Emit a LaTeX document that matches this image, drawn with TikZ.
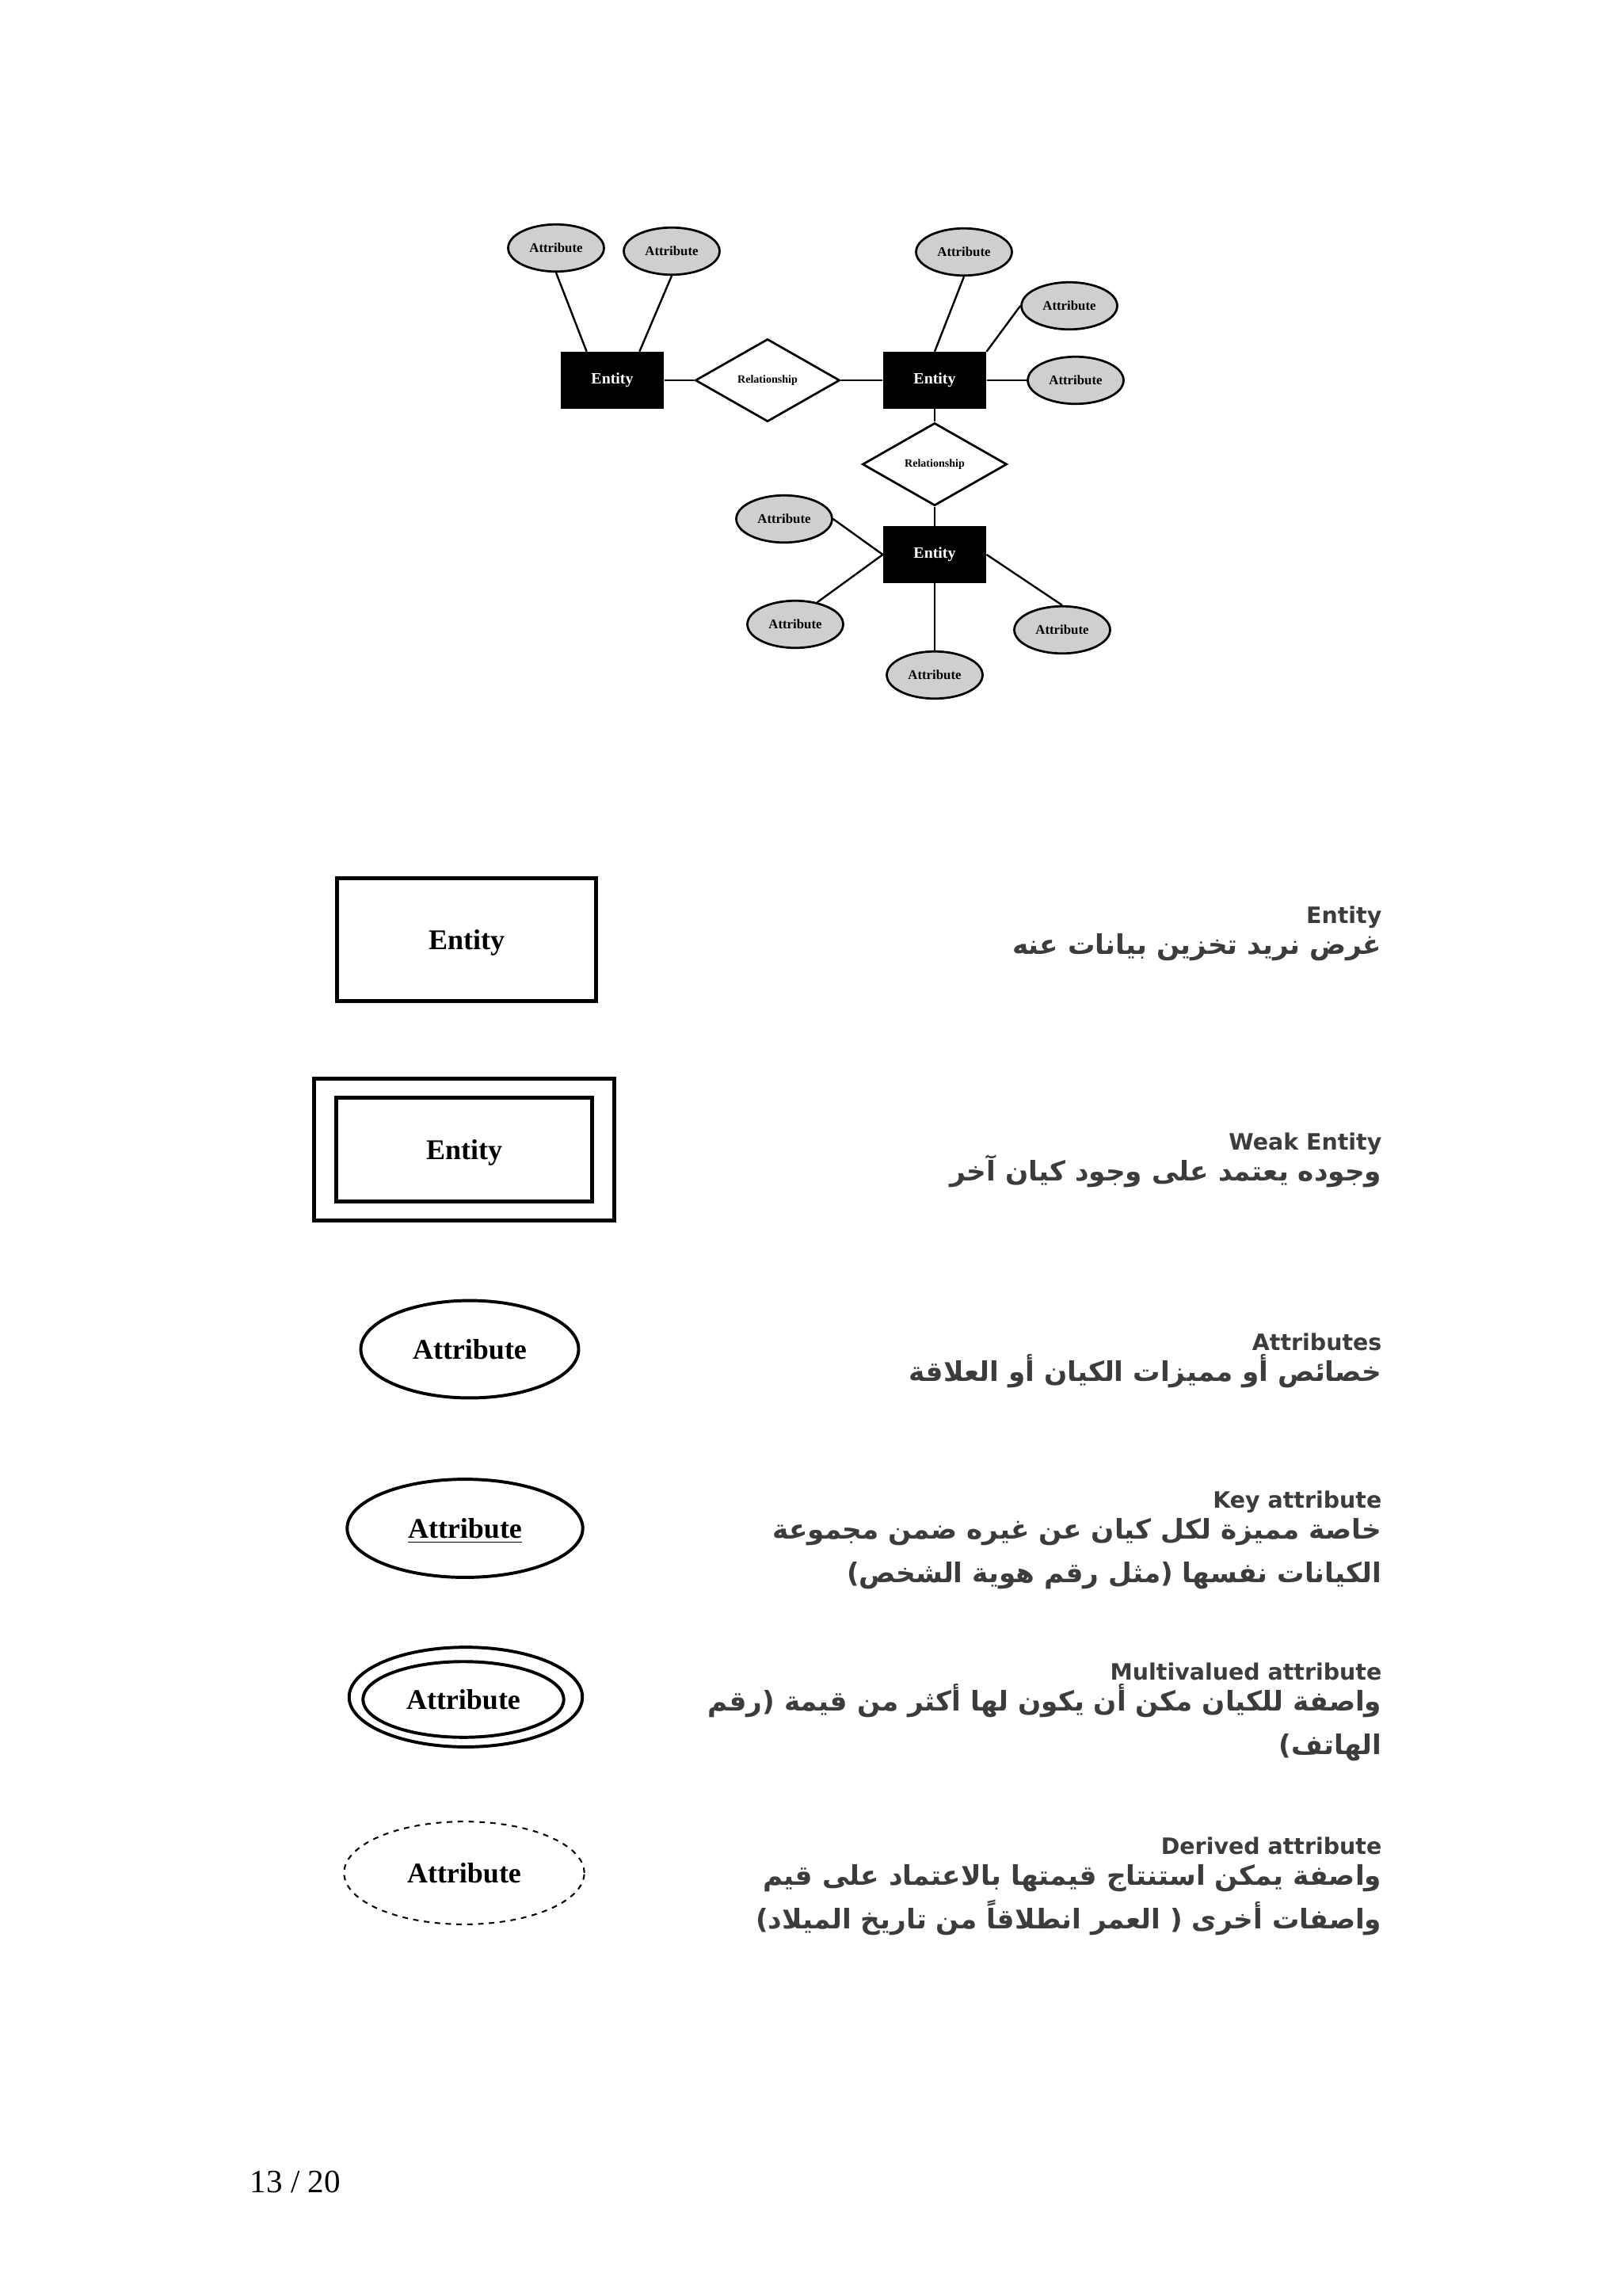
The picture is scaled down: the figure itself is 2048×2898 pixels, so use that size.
\documentclass[tikz,border=0pt]{standalone}
\usepackage{fontspec}
\setmainfont{Liberation Serif}
\newfontfamily\labelfont{DejaVu Sans}
\newfontfamily\arabicfont[Script=Arabic]{DejaVu Sans}
\TeXXeTstate=1
\usetikzlibrary{shapes.geometric, positioning}
\definecolor{attrgray}{HTML}{CFCFCF}
\definecolor{txtgray}{HTML}{3C3C3C}

\begin{document}
\begin{tikzpicture}[x=0.010254cm, y=-0.010254cm,
    attr/.style={ellipse, draw, line width=0.8pt, fill=attrgray, minimum width=1.24cm, minimum height=0.61cm, inner sep=0pt, font=\bfseries\fontsize{4.9}{5}\selectfont},
    entity/.style={fill=black, text=white, minimum width=1.33cm, minimum height=0.73cm, inner sep=0pt, font=\bfseries\fontsize{5.8}{6}\selectfont},
    rel/.style={diamond, draw, line width=0.8pt, fill=white, minimum width=1.87cm, minimum height=1.07cm, inner sep=0pt, font=\bfseries\fontsize{4.1}{5}\selectfont},
    link/.style={line width=0.7pt},
    sym/.style={draw, line width=1.45pt, inner sep=0pt, text depth=0pt, font=\bfseries\fontsize{10.5}{12}\selectfont},
    symattr/.style={sym, ellipse, line width=1.15pt},
    title/.style={anchor=base east, inner sep=0pt, text=txtgray, font=\labelfont\bfseries\fontsize{8.3}{10}\selectfont},
    arab/.style={anchor=base east, inner sep=0pt, text=txtgray, font=\arabicfont\bfseries\fontsize{10}{14}\selectfont}
]
    \useasboundingbox[fill=white] (0,0) rectangle (2048,2898);
    %diagramma: entita e relazioni
    \node (eL) at (773,480) [entity] {Entity};
    \node (d1) at (969,480) [rel] {Relationship};
    \node (eR) at (1180,480) [entity] {Entity};
    \node (d2) at (1180,586) [rel] {Relationship};
    \node (eB) at (1180,700) [entity] {Entity};
    %attributi
    \node (aL1) at (702,313) [attr] {Attribute};
    \node (aL2) at (848,317) [attr] {Attribute};
    \node (aR1) at (1217,318) [attr] {Attribute};
    \node (aR2) at (1350,386) [attr] {Attribute};
    \node (aR3) at (1358,480) [attr] {Attribute};
    \node (aB1) at (990,655) [attr] {Attribute};
    \node (aB2) at (1004,788) [attr] {Attribute};
    \node (aB3) at (1180,852) [attr] {Attribute};
    \node (aB4) at (1341,795) [attr] {Attribute};
    %collegamenti
    \draw[link] (aL1.south) -- ([xshift=0.34cm]eL.north west);
    \draw[link] (aL2.south) -- ([xshift=-0.32cm]eL.north east);
    \draw[link] (eL.east) -- (d1.west);
    \draw[link] (d1.east) -- (eR.west);
    \draw[link] (aR1.south) -- (eR.north);
    \draw[link] (aR2.west) -- (eR.north east);
    \draw[link] (eR.east) -- (aR3.west);
    \draw[link] (eR.south) -- (d2.north);
    \draw[link] (d2.south) -- (eB.north);
    \draw[link] (aB1.east) -- (eB.west);
    \draw[link] (aB2.45) -- (eB.west);
    \draw[link] (eB.south) -- (aB3.north);
    \draw[link] (eB.east) -- (aB4.north);
    %legenda: simboli
    \node (sEnt) at (589,1186) [sym, minimum width=3.35cm, minimum height=1.58cm] {Entity};
    \node (sWeakO) at (586,1451) [sym, minimum width=3.89cm, minimum height=1.84cm] {};
    \node (sWeak) at (586,1451) [sym, minimum width=3.32cm, minimum height=1.34cm] {Entity};
    \node (sAttr) at (593,1703) [symattr, minimum width=2.82cm, minimum height=1.26cm] {Attribute};
    \node (sKey) at (587,1929) [symattr, minimum width=3.05cm, minimum height=1.27cm] {\underline{Attribute}};
    \node (sMultiO) at (588,2142) [symattr, minimum width=3.02cm, minimum height=1.29cm] {};
    \node (sMulti) at (585,2145) [symattr, minimum width=2.60cm, minimum height=0.98cm] {Attribute};
    \node (sDer) at (586,2364) [symattr, line width=0.6pt, dash pattern=on 2pt off 2pt, minimum width=3.11cm, minimum height=1.33cm] {Attribute};
    %legenda: testi
    \node (tEnt) at (1745,1165) [title] {Entity};
    \node (aEnt) at (1745,1204) [arab] {\beginR غرض نريد تخزين بيانات عنه\endR};
    \node (tWeak) at (1745,1451) [title] {Weak Entity};
    \node (aWeak) at (1745,1490) [arab] {\beginR وجوده يعتمد على وجود كيان آخر\endR};
    \node (tAttr) at (1745,1704) [title] {Attributes};
    \node (aAttr) at (1745,1743) [arab] {\beginR خصائص أو مميزات الكيان أو العلاقة\endR};
    \node (tKey) at (1745,1903) [title] {Key attribute};
    \node (aKey1) at (1745,1942) [arab] {\beginR خاصة مميزة لكل كيان عن غيره ضمن مجموعة\endR};
    \node (aKey2) at (1745,1997) [arab] {\beginR الكيانات نفسها \mbox{(}مثل رقم هوية الشخص\mbox{)}\endR};
    \node (tMulti) at (1745,2120) [title] {Multivalued attribute};
    \node (aMulti1) at (1745,2159) [arab] {\beginR واصفة للكيان مكن أن يكون لها أكثر من قيمة \mbox{(}رقم\endR};
    \node (aMulti2) at (1745,2214) [arab] {\beginR الهاتف\mbox{)}\endR};
    \node (tDer) at (1745,2340) [title] {Derived attribute};
    \node (aDer1) at (1745,2379) [arab] {\beginR واصفة يمكن استنتاج قيمتها بالاعتماد على قيم\endR};
    \node (aDer2) at (1745,2434) [arab] {\beginR واصفات أخرى \mbox{(} العمر انطلاقاً من تاريخ الميلاد\mbox{)}\endR};
    %numero di pagina
    \node (page) at (315,2767) [anchor=base west, inner sep=0pt, font=\fontsize{12}{14}\selectfont] {13 / 20};
\end{tikzpicture}
\end{document}
